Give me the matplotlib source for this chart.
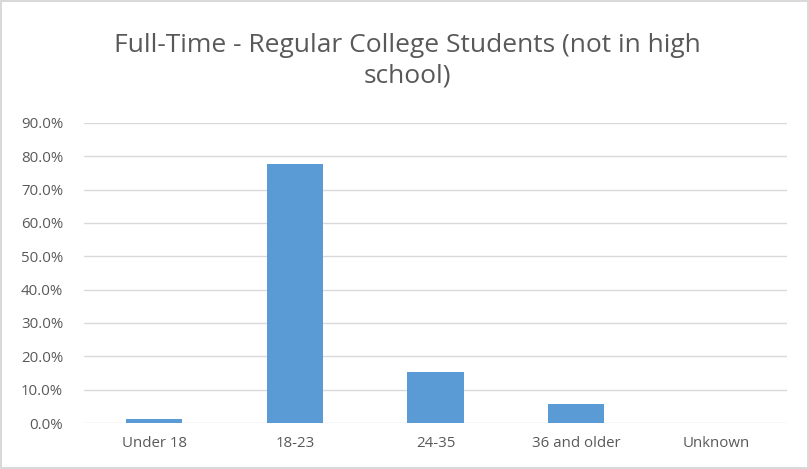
import matplotlib
matplotlib.use("Agg")
import matplotlib.pyplot as plt
from matplotlib.ticker import FuncFormatter

categories = ["Under 18", "18-23", "24-35", "36 and older", "Unknown"]
values = [1.3, 77.7, 15.2, 5.7, 0.0]
yticks = [0, 10, 20, 30, 40, 50, 60, 70, 80, 90]
title = "Full-Time - Regular College Students (not in high\nschool)"

plt.rcParams["font.family"] = ["Open Sans", "DejaVu Sans"]
grey = "#595959"

fig = plt.figure(figsize=(8.09, 4.69), dpi=100)
fig.patch.set_edgecolor("#d9d9d9")
fig.patch.set_linewidth(1.5)
ax = fig.add_axes([84 / 809, 1 - 423 / 469, (787 - 84) / 809, 300 / 469])

x = range(len(categories))
ax.bar(x, values, width=0.4, color="#5b9bd5", zorder=3)

ax.set_xlim(-0.5, len(categories) - 0.5)
ax.set_ylim(0, 90)
ax.set_yticks(yticks)
ax.yaxis.set_major_formatter(FuncFormatter(lambda v, p: f"{v:.1f}%"))
ax.set_xticks(list(x))
ax.set_xticklabels(categories)
ax.tick_params(axis="both", length=0, colors=grey, labelsize=10.8)
ax.tick_params(axis="x", pad=9)
ax.tick_params(axis="y", pad=15)
ax.grid(axis="y", color="#d9d9d9", linewidth=1, zorder=0)
for s in ax.spines.values():
    s.set_visible(False)

fig.text(407 / 809, 1 - 61 / 469, title, ha="center", va="center",
         fontsize=19, color=grey, linespacing=1.3)

fig.savefig("out.png", dpi=100)
